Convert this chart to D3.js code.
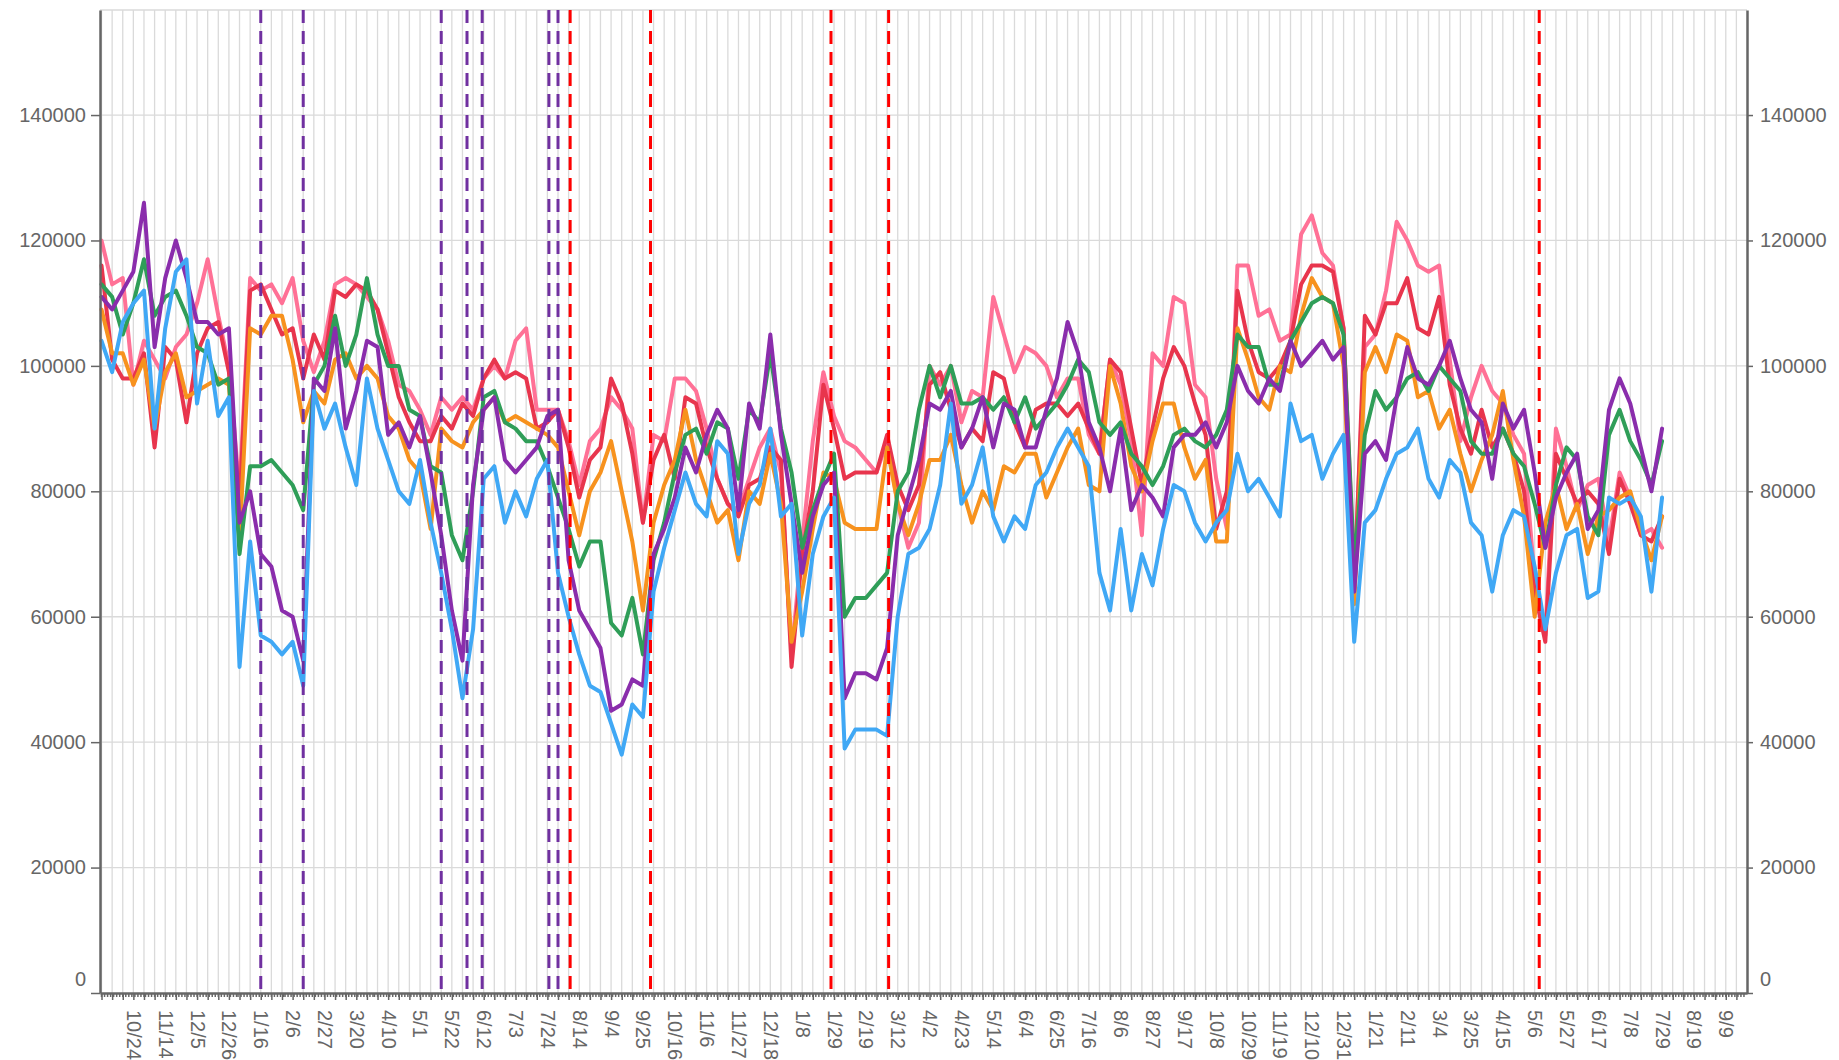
<!DOCTYPE html>
<html>
<head>
<meta charset="utf-8">
<title>Weekly series</title>
<script src="https://cdnjs.cloudflare.com/ajax/libs/d3/7.8.5/d3.min.js"></script>
<style>
  body { margin: 0; background: #fff; }
  svg { display: block; font-family: "DejaVu Sans", sans-serif; }
  .grid line { stroke: #dadada; stroke-width: 1.3; }
  .axis path { stroke: #666; stroke-width: 2.5; }
  .axis line { stroke: #666; stroke-width: 1.5; }
  .axis text { fill: #666; font-size: 20px; }
  .series { fill: none; stroke-width: 4; stroke-linejoin: round; stroke-linecap: round; }
</style>
</head>
<body>
<svg id="chart" width="1839" height="1060"></svg>
<script>
// weekly points, first one on this date, values in thousands
var firstWeek = "2020-10-03";

var pink = [120,113,114,97,104,101,98,103,105,110,
  117,108,100,80,114,112,113,110,114,104,
  99,104,113,114,113,111,109,104,97,96,
  93,89,95,93,95,93,98,100,98,104,
  106,93,93,93,88,81,88,90,95,93,
  90,75,89,88,98,98,96,90,82,78,
  77,82,87,90,83,54,72,88,99,92,
  88,87,85,83,88,78,71,75,100,97,
  100,91,96,95,111,105,99,103,102,100,
  95,98,98,89,86,101,97,88,73,102,
  100,111,110,97,95,82,74,116,116,108,
  109,104,105,121,124,118,116,106,66,103,
  105,112,123,120,116,115,116,101,88,95,
  100,96,94,89,86,66,57,90,84,77,
  81,82,72,83,79,73,74,71];

var red = [116,101,98,98,102,87,103,101,91,102,
  106,107,99,78,112,113,109,105,106,98,
  105,101,112,111,113,112,109,102,95,91,
  88,88,92,90,94,92,98,101,98,99,
  98,90,91,93,87,79,85,87,98,94,
  86,75,85,89,82,95,94,87,82,78,
  76,81,82,87,85,52,70,80,97,90,
  82,83,83,83,89,81,77,81,97,99,
  93,87,90,88,99,98,91,87,93,94,
  94,92,94,90,86,101,99,90,81,90,
  98,103,100,94,89,74,80,112,104,99,
  98,100,104,113,116,116,115,106,63,108,
  105,110,110,114,106,105,111,97,90,86,
  93,87,90,86,80,64,56,86,82,78,
  80,78,70,82,78,73,72,76];

var orange = [109,102,102,97,101,90,99,102,95,96,
  97,98,97,72,106,105,108,108,101,91,
  96,94,101,102,98,100,98,92,90,85,
  83,74,90,88,87,91,93,95,91,92,
  91,90,89,87,80,73,80,83,88,80,
  72,61,75,81,85,93,85,80,75,77,
  69,80,78,86,78,56,64,74,83,82,
  75,74,74,74,87,78,73,78,85,85,
  89,81,75,80,77,84,83,86,86,79,
  83,87,90,81,80,100,94,84,80,88,
  94,94,87,82,85,72,72,106,101,95,
  93,100,99,108,114,111,110,100,62,99,
  103,99,105,104,95,96,90,93,86,80,
  85,89,96,85,76,60,75,81,74,78,
  70,76,77,79,80,74,69,76];

var green = [113,111,105,110,117,108,111,112,108,103,
  102,97,98,70,84,84,85,83,81,77,
  97,100,108,100,105,114,105,100,100,93,
  92,84,83,73,69,80,95,96,91,90,
  88,88,84,79,74,68,72,72,59,57,
  63,54,69,75,83,89,90,86,91,90,
  82,93,91,102,90,83,71,77,82,86,
  60,63,63,65,67,80,83,93,100,95,
  100,94,94,95,93,95,91,95,90,92,
  94,97,101,99,91,89,91,86,84,81,
  84,89,90,88,87,89,93,105,103,103,
  97,97,104,107,110,111,110,105,68,89,
  96,93,95,98,99,96,100,98,96,88,
  86,86,90,86,84,78,71,81,87,85,
  76,73,89,93,88,85,81,88];

var purple = [111,109,112,115,126,103,114,120,114,107,
  107,105,106,75,80,70,68,61,60,53,
  98,96,106,90,96,104,103,89,91,87,
  92,83,73,61,53,81,93,95,85,83,
  85,87,92,93,69,61,58,55,45,46,
  50,49,70,74,79,87,83,89,93,90,
  77,94,90,105,89,78,67,76,81,83,
  47,51,51,50,55,73,79,85,94,93,
  96,87,90,95,87,94,93,87,87,93,
  98,107,102,91,87,80,90,77,81,79,
  76,87,89,89,91,87,91,100,96,94,
  98,96,104,100,102,104,101,103,64,86,
  88,85,95,103,98,97,100,104,98,93,
  91,82,94,90,93,83,71,79,83,86,
  74,77,93,98,94,87,80,90];

var blue = [104,99,107,110,112,90,106,115,117,94,
  104,92,95,52,72,57,56,54,56,49,
  96,90,94,87,81,98,90,85,80,78,
  85,75,67,58,47,58,82,84,75,80,
  76,82,85,67,60,54,49,48,43,38,
  46,44,64,71,77,83,78,76,88,86,
  70,78,81,90,76,78,57,70,76,79,
  39,42,42,42,41,60,70,71,74,81,
  94,78,81,87,76,72,76,74,81,83,
  87,90,87,84,67,61,74,61,70,65,
  74,81,80,75,72,75,77,86,80,82,
  79,76,94,88,89,82,86,89,56,75,
  77,82,86,87,90,82,79,85,83,75,
  73,64,73,77,76,68,58,67,73,74,
  63,64,79,78,79,76,64,79];

var seriesNames = ["pink", "red", "orange", "green", "purple", "blue"];
var seriesColors = ["#ff7196", "#e8354d", "#f7921e", "#2f9e58", "#8a2dac", "#40a8f5"];
var seriesValues = [pink, red, orange, green, purple, blue];

// event markers
var purpleMarks = ["2021-01-16", "2021-02-13", "2021-05-15", "2021-06-01", "2021-06-11", "2021-07-25", "2021-07-31"];
var redMarks = ["2021-08-08", "2021-09-30", "2022-01-27", "2022-03-06", "2023-05-09"];

var yTicks = [0, 20000, 40000, 60000, 80000, 100000, 120000, 140000];
var xLabelDates = ["2020-10-24","2020-11-14","2020-12-05","2020-12-26","2021-01-16","2021-02-06","2021-02-27",
  "2021-03-20","2021-04-10","2021-05-01","2021-05-22","2021-06-12","2021-07-03","2021-07-24","2021-08-14",
  "2021-09-04","2021-09-25","2021-10-16","2021-11-06","2021-11-27","2021-12-18","2022-01-08","2022-01-29",
  "2022-02-19","2022-03-12","2022-04-02","2022-04-23","2022-05-14","2022-06-04","2022-06-25","2022-07-16",
  "2022-08-06","2022-08-27","2022-09-17","2022-10-08","2022-10-29","2022-11-19","2022-12-10","2022-12-31",
  "2023-01-21","2023-02-11","2023-03-04","2023-03-25","2023-04-15","2023-05-06","2023-05-27","2023-06-17",
  "2023-07-08","2023-07-29","2023-08-19","2023-09-09"];

var parseDate = d3.utcParse("%Y-%m-%d"),
    fmt = d3.utcFormat("%-m/%-d");

var svg = d3.select("#chart"),
    margin = {top: 10, right: 92, bottom: 67, left: 100},
    width = +svg.attr("width") - margin.left - margin.right,
    height = +svg.attr("height") - margin.top - margin.bottom;

var x = d3.scaleUtc()
    .domain([parseDate("2020-10-02"), parseDate("2023-09-23")])
    .range([0, width]);
var y = d3.scaleLinear().domain([0, 156750]).range([height, 0]);

var g = svg.append("g").attr("transform", "translate(" + margin.left + "," + margin.top + ")");

var start = parseDate(firstWeek);
var weeks = d3.utcSaturday.range(x.domain()[0], x.domain()[1]);
var labelSet = new Set(xLabelDates.map(function(s) { return +parseDate(s); }));

// grid
var grid = g.append("g").attr("class", "grid");
grid.selectAll(".v").data(weeks).enter().append("line")
    .attr("x1", function(d) { return x(d); }).attr("x2", function(d) { return x(d); })
    .attr("y1", 0).attr("y2", height);
grid.selectAll(".h").data(yTicks.filter(function(v) { return v > 0; }).concat([y.domain()[1]])).enter().append("line")
    .attr("x1", 0).attr("x2", width)
    .attr("y1", function(d) { return y(d); }).attr("y2", function(d) { return y(d); });

// lines
var line = d3.line()
    .x(function(d, i) { return x(d3.utcDay.offset(start, 7 * i)); })
    .y(function(d) { return y(d * 1000); });

seriesValues.forEach(function(vals, i) {
  g.append("path")
      .datum(vals)
      .attr("class", "series " + seriesNames[i])
      .attr("stroke", seriesColors[i])
      .attr("d", line);
});

// dashed markers
function marks(list, color) {
  g.append("g").selectAll("line").data(list).enter().append("line")
      .attr("x1", function(d) { return x(parseDate(d)); })
      .attr("x2", function(d) { return x(parseDate(d)); })
      .attr("y1", 0).attr("y2", height)
      .attr("stroke", color)
      .attr("stroke-width", 3)
      .attr("stroke-dasharray", "13,8");
}
marks(purpleMarks, "#7030a0");
marks(redMarks, "#ff0000");

// axes
var gx = g.append("g")
    .attr("class", "axis axis--x")
    .attr("transform", "translate(0," + height + ")")
    .call(d3.axisBottom(x).tickValues(weeks).tickSize(7).tickSizeOuter(0)
      .tickFormat(function(d) { return labelSet.has(+d) ? fmt(d) : ""; }));
gx.selectAll("text")
    .attr("transform", "rotate(90)")
    .attr("x", 17).attr("y", 0).attr("dy", "0.35em")
    .style("text-anchor", "start");

// small day ticks
g.append("g").attr("class", "axis").selectAll("line")
    .data(d3.utcDay.every(2).range(x.domain()[0], x.domain()[1]))
    .enter().append("line")
    .attr("x1", function(d) { return x(d); }).attr("x2", function(d) { return x(d); })
    .attr("y1", height).attr("y2", height + 4)
    .attr("stroke-width", 1);

var gyl = g.append("g")
    .attr("class", "axis axis--y")
    .call(d3.axisLeft(y).tickValues(yTicks).tickSize(9).tickPadding(5).tickSizeOuter(0)
      .tickFormat(d3.format("d")));
var gyr = g.append("g")
    .attr("class", "axis axis--y")
    .attr("transform", "translate(" + width + ",0)")
    .call(d3.axisRight(y).tickValues(yTicks).tickSize(6).tickPadding(7).tickSizeOuter(0)
      .tickFormat(d3.format("d")));
[gyl, gyr].forEach(function(a) {
  a.selectAll(".tick text").filter(function(d) { return d === 0; }).attr("y", -14);
});
</script>
</body>
</html>
